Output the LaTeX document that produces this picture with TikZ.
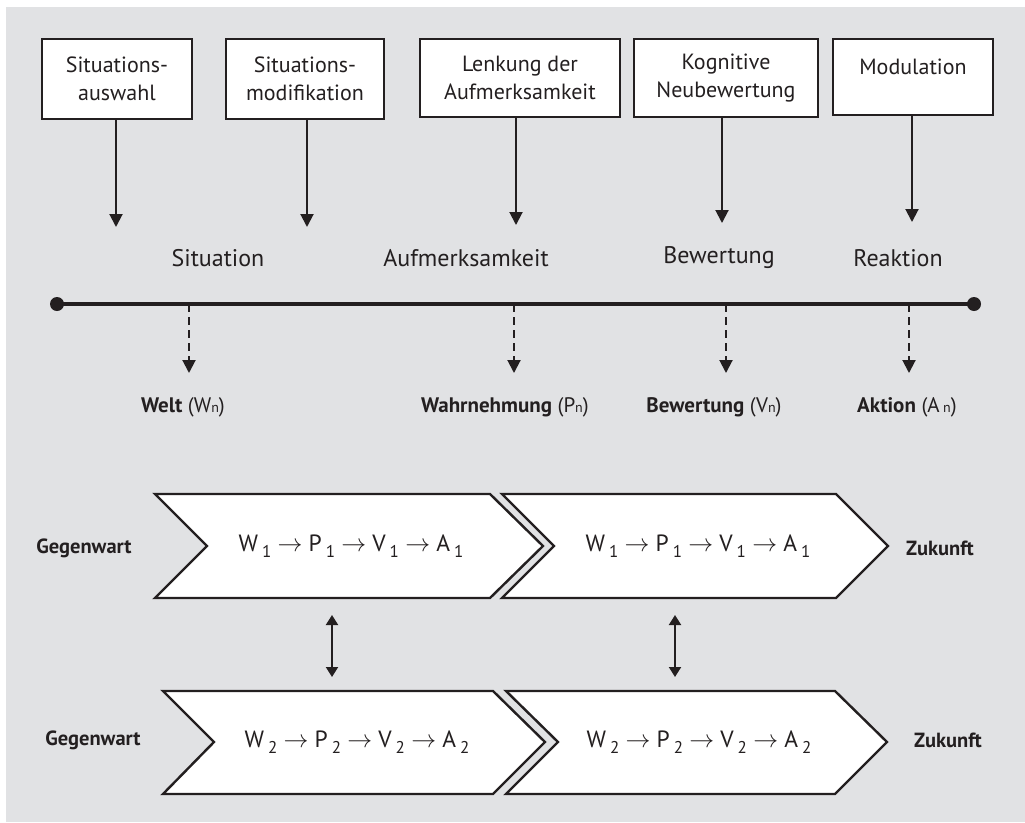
\documentclass[tikz,border=0pt]{standalone}
\usepackage{fontspec}
\setmainfont{PT Sans}
\usetikzlibrary{arrows.meta}
\definecolor{bggrey}{HTML}{E1E2E4}
\definecolor{ink}{HTML}{231F20}
\newcommand\chsub[1]{\,\raisebox{-0.45ex}{\fontsize{17}{17}\selectfont #1}}
\newcommand\nsub[1]{{\fontsize{14}{14}\selectfont #1}}
\tikzset{
  box/.style={draw=ink, line width=2.6pt, fill=white, align=center, inner sep=0pt,
    font=\fontsize{22}{28}\selectfont, text=ink},
  proc/.style={font=\fontsize{24}{28}\selectfont, text=ink},
  state/.style={font=\fontsize{21}{24}\selectfont, text=ink},
  side/.style={font=\fontsize{20.5}{24}\selectfont\bfseries, text=ink},
  chtext/.style={font=\fontsize{23.5}{28}\selectfont, text=ink},
  chev/.style={draw=ink, line width=2.4pt, fill=white, line join=miter},
  solidarrow/.style={draw=ink, line width=2pt, -{Triangle[width=13pt,length=13pt]}},
  dasharrow/.style={draw=ink, line width=2pt, dash pattern=on 8pt off 5pt, -{Triangle[width=13pt,length=13pt]}},
  bothways/.style={draw=ink, line width=2pt, {Triangle[width=12pt,length=10pt]}-{Triangle[width=12pt,length=10pt]}},
}
\begin{document}
\begin{tikzpicture}[x=1pt,y=-1pt]
\useasboundingbox (0,0) rectangle (1025,822);
\fill[white] (0,0) rectangle (1025,822);
\fill[bggrey] (6,7) rectangle (1025,822);

% top boxes
\node[box, minimum width=150, minimum height=80] (b1) at (117,79) {Situations-\\auswahl};
\node[box, minimum width=158, minimum height=80] (b2) at (305,79) {Situations-\\modifikation};
\node[box, minimum width=200, minimum height=78] (b3) at (520,78) {Lenkung der\\Aufmerksamkeit};
\node[box, minimum width=184, minimum height=78] (b4) at (726,78) {Kognitive\\Neubewertung};
\node[box, minimum width=160, minimum height=76] (b5) at (913,77) {\raisebox{20pt}{Modulation}};

\coordinate (e1) at (116,227);
\coordinate (e2) at (307,227);
\coordinate (e3) at (516,225);
\coordinate (e4) at (722,223);
\coordinate (e5) at (912,222);
\draw[solidarrow] (b1.south -| e1) -- (e1);
\draw[solidarrow] (b2.south -| e2) -- (e2);
\draw[solidarrow] (b3.south -| e3) -- (e3);
\draw[solidarrow] (b4.south -| e4) -- (e4);
\draw[solidarrow] (b5.south -| e5) -- (e5);

% process labels
\node[proc] (l1) at (218,258) {Situation};
\node[proc] (l2) at (466,258) {Aufmerksamkeit};
\node[proc] (l3) at (719,258) {Bewertung};
\node[proc] (l4) at (898,258) {Reaktion};

% timeline
\coordinate (tl) at (57,304);
\coordinate (tr) at (974,304);
\draw[ink, line width=4pt] (tl) -- (tr);
\fill[ink] (tl) circle (7);
\fill[ink] (tr) circle (7);

\coordinate (d1) at (189,304);
\coordinate (d2) at (514,304);
\coordinate (d3) at (726,304);
\coordinate (d4) at (909,304);
\coordinate (f1) at (189,373);
\coordinate (f2) at (514,373);
\coordinate (f3) at (726,373);
\coordinate (f4) at (909,373);
\draw[dasharrow] (d1) -- (f1);
\draw[dasharrow] (d2) -- (f2);
\draw[dasharrow] (d3) -- (f3);
\draw[dasharrow] (d4) -- (f4);

% state labels
\node[state] (s1) at (183,407) {\textbf{Welt} (W\nsub{n})};
\node[state] (s2) at (505,407) {\textbf{Wahrnehmung} (P\nsub{n})};
\node[state] (s3) at (714,407) {\textbf{Bewertung} (V\nsub{n})};
\node[state] (s4) at (907,407) {\textbf{Aktion} (A\,\nsub{n})};

% chevrons
\draw[chev] (155,494) -- (490,494) -- (543,546) -- (490,598) -- (155,598) -- (207,546) -- cycle;
\draw[chev] (502,494) -- (836,494) -- (888,546) -- (836,598) -- (502,598) -- (554,546) -- cycle;
\draw[chev] (163,691) -- (493,691) -- (545,742) -- (493,794) -- (163,794) -- (214,742) -- cycle;
\draw[chev] (506,691) -- (835,691) -- (887,742) -- (835,794) -- (506,794) -- (558,742) -- cycle;

\node[chtext] (c1) at (351,546) {W\chsub{1} $\rightarrow$ P\chsub{1} $\rightarrow$ V\chsub{1} $\rightarrow$ A\chsub{1}};
\node[chtext] (c2) at (698,546) {W\chsub{1} $\rightarrow$ P\chsub{1} $\rightarrow$ V\chsub{1} $\rightarrow$ A\chsub{1}};
\node[chtext] (c3) at (357,742) {W\chsub{2} $\rightarrow$ P\chsub{2} $\rightarrow$ V\chsub{2} $\rightarrow$ A\chsub{2}};
\node[chtext] (c4) at (699,742) {W\chsub{2} $\rightarrow$ P\chsub{2} $\rightarrow$ V\chsub{2} $\rightarrow$ A\chsub{2}};

\node[side] (g1) at (84,548) {Gegenwart};
\node[side] (g2) at (93,740) {Gegenwart};
\node[side] (z1) at (940,548) {Zukunft};
\node[side] (z2) at (948,740) {Zukunft};

% double arrows
\coordinate (u1) at (332,615);
\coordinate (v1) at (332,677);
\coordinate (u2) at (675,615);
\coordinate (v2) at (675,677);
\draw[bothways] (u1) -- (v1);
\draw[bothways] (u2) -- (v2);
\end{tikzpicture}
\end{document}
